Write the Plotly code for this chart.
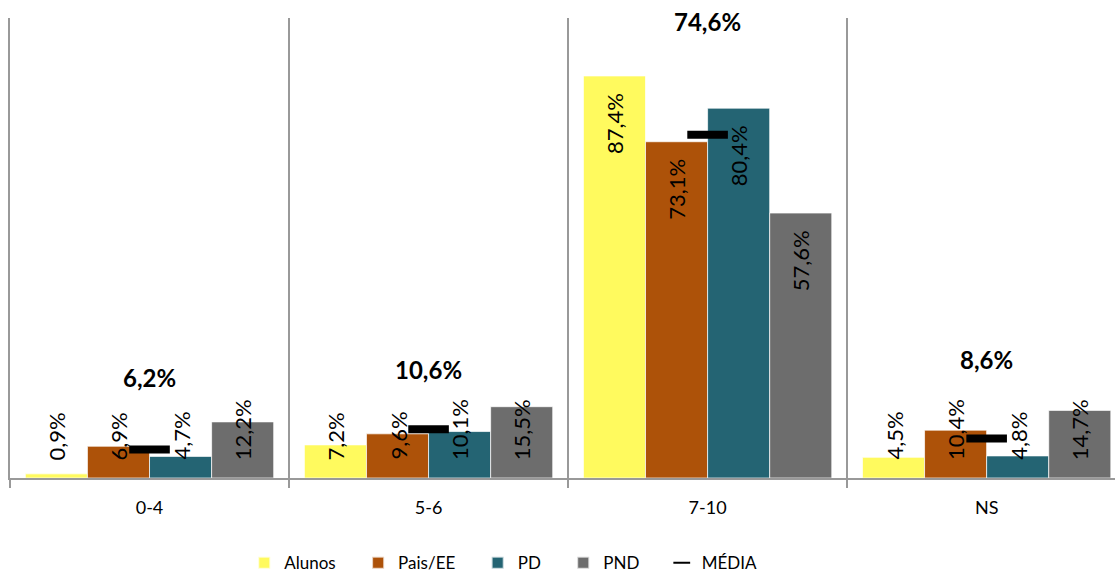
import plotly.graph_objects as go

# ---- data ----
categories = ["0-4", "5-6", "7-10", "NS"]
series_names = ["Alunos", "Pais/EE", "PD", "PND"]
alunos = [0.9, 7.2, 87.4, 4.5]
pais_ee = [6.9, 9.6, 73.1, 10.4]
pd_vals = [4.7, 10.1, 80.4, 4.8]
pnd = [12.2, 15.5, 57.6, 14.7]
media = [6.2, 10.6, 74.6, 8.6]
media_name = "MÉDIA"

# ---- style ----
colors = ["#FFFA5E", "#AD5209", "#246473", "#6D6D6D"]
FONT = "Lato"
BARGAP = 0.11
GRID = "#999999"
media_label_shift = [72, 60, 113, 79]
LEGEND_PAD = "\u00a0" * 4


def fmt(v):
    return f"{v:.1f}".replace(".", ",") + "%"


series = [alunos, pais_ee, pd_vals, pnd]
fig = go.Figure()
for name, vals, col in zip(series_names, series, colors):
    fig.add_trace(go.Bar(
        name=name + LEGEND_PAD, x=categories, y=vals,
        marker=dict(color=col, line=dict(color="rgba(255,255,255,0.7)", width=1)),
        hoverinfo="skip",
    ))

fig.add_trace(go.Scatter(
    name=media_name, x=categories, y=media, mode="markers",
    marker=dict(symbol="line-ew", size=29, color="black",
                line=dict(color="black", width=8)),
    hoverinfo="skip",
))

annotations = []
slot = (1 - BARGAP) / len(series)
for j, vals in enumerate(series):
    for i, v in enumerate(vals):
        x = i + (j - (len(series) - 1) / 2) * slot
        if v >= 30:
            y, ya, ys = v, "top", -15
        else:
            y, ya, ys = 0, "bottom", 16
        annotations.append(dict(
            x=x, y=y, xref="x", yref="y", text=fmt(v), showarrow=False,
            textangle=-90, yanchor=ya, yshift=ys, xanchor="center",
            font=dict(family=FONT, size=22, color="black"),
        ))

for i, m in enumerate(media):
    annotations.append(dict(
        x=categories[i], y=m, xref="x", yref="y", text="<b>" + fmt(m) + "</b>",
        showarrow=False, yanchor="middle", yshift=media_label_shift[i],
        font=dict(family=FONT, size=24, color="black"),
    ))

fig.update_layout(
    width=1115, height=572,
    margin=dict(l=10, r=0, t=18, b=94, autoexpand=False),
    paper_bgcolor="white", plot_bgcolor="white",
    barmode="group", bargap=BARGAP, bargroupgap=0,
    font=dict(family=FONT, color="black"),
    annotations=annotations,
    showlegend=True,
    legend=dict(orientation="h", x=0.212, xanchor="left", y=-0.185,
                yanchor="middle", font=dict(family=FONT, size=17, color="black"),
                itemsizing="constant"),
    xaxis=dict(type="category", range=[-0.5, 3.46], tickson="boundaries",
               ticks="outside", ticklen=8, tickwidth=2, tickcolor=GRID,
               showgrid=True, gridcolor=GRID, gridwidth=2,
               showline=True, linecolor=GRID, linewidth=2,
               tickfont=dict(family=FONT, size=18, color="black"),
               ticklabelstandoff=12, fixedrange=True, automargin=False),
    yaxis=dict(range=[0, 100], showgrid=False, showticklabels=False,
               zeroline=False, showline=True, linecolor=GRID, linewidth=2,
               ticks="", fixedrange=True, automargin=False),
)

fig.write_html(
    "out.html",
    config={"displayModeBar": False},
    post_script="document.body.style.margin='0';document.body.style.padding='0';"
                "document.body.style.overflow='hidden';",
)
